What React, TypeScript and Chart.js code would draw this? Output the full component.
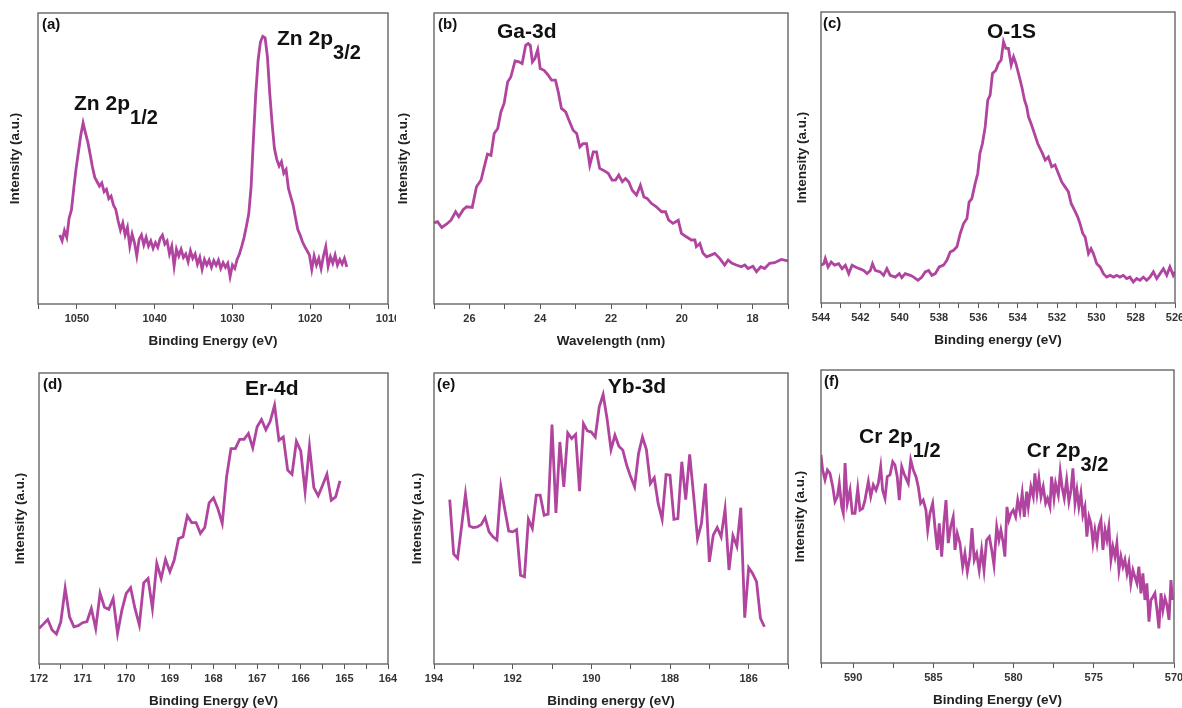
import React, { useEffect, useRef } from "react";
import { Chart, registerables } from "chart.js";

Chart.register(...registerables);

// ---------------- data ----------------
const A_EV = [1052.2,1051.9,1051.6,1051.3,1051.0,1050.7,1050.4,1050.1,1049.8,1049.5,1049.2,1048.9,1048.6,1048.3,1048.0,1047.7,1047.4,1047.1,1046.8,1046.5,1046.2,1045.9,1045.6,1045.3,1045.0,1044.7,1044.4,1044.1,1043.8,1043.5,1043.2,1042.9,1042.6,1042.3,1042.0,1041.7,1041.4,1041.1,1040.8,1040.5,1040.2,1039.9,1039.6,1039.3,1039.0,1038.7,1038.4,1038.1,1037.8,1037.5,1037.2,1036.9,1036.6,1036.3,1036.0,1035.7,1035.4,1035.1,1034.8,1034.5,1034.2,1033.9,1033.6,1033.3,1033.0,1032.7,1032.4,1032.1,1031.8,1031.5,1031.2,1030.9,1030.6,1030.3,1030.0,1029.7,1029.4,1029.1,1028.8,1028.5,1028.2,1027.9,1027.6,1027.3,1027.0,1026.7,1026.4,1026.1,1025.8,1025.5,1025.2,1024.9,1024.6,1024.3,1024.0,1023.7,1023.4,1023.1,1022.8,1022.5,1022.2,1021.9,1021.6,1021.3,1021.0,1020.7,1020.4,1020.1,1019.8,1019.5,1019.2,1018.9,1018.6,1018.3,1018.0,1017.7,1017.4,1017.1,1016.8,1016.5,1016.2,1015.9,1015.6,1015.3];
const A_VAL = [23.7,21.7,25.2,22.9,29.5,32.3,39.7,46.6,52.3,58.0,62.2,58.8,55.7,51.5,47.1,43.5,42.0,40.5,41.6,38.6,39.4,36.2,37.1,34.0,32.5,28.6,25.4,27.9,23.7,26.3,19.9,24.0,21.1,16.5,22.2,23.7,20.3,22.9,19.9,21.7,19.1,21.1,19.5,22.5,23.7,20.6,21.7,17.2,19.9,13.0,18.8,16.5,18.8,16.0,17.2,14.5,18.3,15.7,17.2,13.7,16.0,11.9,15.3,13.4,15.1,12.6,14.9,13.3,15.1,12.2,14.2,12.6,14.0,9.4,13.4,12.2,15.3,17.2,19.9,22.9,26.8,31.1,40.3,56.9,72.3,83.8,90.0,92.0,91.5,84.9,72.3,62.0,53.4,49.7,47.4,48.9,44.9,46.2,39.7,36.8,34.0,29.7,25.6,23.7,21.4,19.7,18.3,16.8,11.9,16.5,13.4,15.7,12.2,16.5,19.7,13.0,16.2,14.0,16.8,13.4,15.3,13.7,15.7,12.8];

const B_NM = [27.00,26.90,26.78,26.64,26.52,26.39,26.30,26.17,26.08,25.92,25.80,25.67,25.58,25.49,25.39,25.30,25.20,25.11,25.02,24.92,24.83,24.71,24.60,24.51,24.41,24.34,24.28,24.22,24.15,24.07,24.00,23.89,23.77,23.68,23.57,23.49,23.40,23.28,23.19,23.07,22.97,22.88,22.79,22.69,22.60,22.50,22.41,22.32,22.22,22.08,21.97,21.87,21.78,21.68,21.59,21.50,21.40,21.28,21.17,21.07,20.98,20.86,20.72,20.57,20.46,20.37,20.25,20.10,20.01,19.87,19.73,19.63,19.59,19.49,19.40,19.30,19.18,19.07,18.93,18.79,18.69,18.58,18.46,18.32,18.22,18.13,17.99,17.89,17.77,17.66,17.52,17.38,17.19,17.00];
const B_VAL = [27.9,28.3,26.3,27.5,28.8,31.7,30.0,32.5,33.4,33.2,40.3,42.6,47.1,51.5,51.1,58.6,60.3,66.0,68.9,76.3,78.0,83.5,83.2,82.6,88.9,89.5,88.9,83.2,84.3,87.4,80.9,80.3,78.6,76.9,76.9,72.9,67.2,66.0,63.2,59.7,58.6,54.0,55.1,55.1,47.7,52.3,52.3,46.6,46.0,44.9,42.6,42.6,44.3,42.0,43.1,42.0,39.1,37.4,40.8,36.8,36.3,34.6,33.4,31.7,31.7,28.8,27.7,28.8,24.3,23.1,22.0,22.0,19.7,20.8,17.4,16.2,16.8,17.4,15.7,13.4,15.1,14.0,13.4,12.8,13.4,12.2,13.0,11.1,12.8,12.2,14.0,14.2,15.3,14.8];

const C_EV = [544.00,543.86,543.78,543.64,543.48,543.31,543.10,542.93,542.76,542.59,542.42,542.25,542.05,541.83,541.66,541.49,541.38,541.24,540.99,540.82,540.65,540.48,540.22,540.02,539.89,539.72,539.46,539.29,539.07,538.87,538.70,538.53,538.36,538.19,537.99,537.77,537.60,537.43,537.26,537.09,536.92,536.75,536.58,536.47,536.33,536.16,536.03,535.92,535.79,535.65,535.52,535.40,535.28,535.11,534.98,534.84,534.72,534.60,534.47,534.33,534.21,534.09,533.96,533.79,533.65,533.54,533.45,533.32,533.15,532.98,532.86,532.74,532.60,532.44,532.27,532.10,531.93,531.76,531.59,531.42,531.28,531.11,530.95,530.83,530.69,530.57,530.40,530.27,530.15,529.98,529.81,529.64,529.47,529.30,529.13,528.96,528.80,528.63,528.46,528.29,528.12,527.95,527.78,527.61,527.44,527.27,527.10,526.93,526.76,526.59,526.42,526.26,526.09,526.00];
const C_VAL = [13.0,13.5,15.3,12.4,14.1,13.0,13.5,11.8,13.0,10.1,13.0,12.4,11.8,11.2,10.1,11.2,13.5,11.2,10.7,9.5,11.8,9.5,8.9,10.1,8.7,10.1,9.5,8.9,7.8,8.9,10.7,11.2,9.5,10.1,12.4,13.0,14.7,17.5,18.1,19.3,23.9,27.3,29.0,34.7,35.9,41.1,44.5,51.4,54.8,60.6,69.7,71.4,78.9,80.0,82.3,83.5,89.8,87.5,87.5,81.8,84.6,82.3,78.9,74.3,69.7,67.4,64.0,61.7,58.3,54.8,53.1,51.4,49.1,50.2,46.8,47.4,44.5,41.6,39.9,38.2,34.2,31.9,29.6,27.3,23.9,22.7,17.0,18.7,17.0,13.5,12.4,10.1,8.9,9.5,8.9,9.5,8.9,9.5,8.4,8.9,7.2,8.4,7.8,8.9,7.8,8.9,10.7,8.4,10.1,11.8,9.5,12.4,9.5,10.7];

const D_EV = [172.0,171.9,171.8,171.7,171.6,171.5,171.4,171.3,171.2,171.1,171.0,170.9,170.8,170.7,170.6,170.5,170.4,170.3,170.2,170.1,170.0,169.9,169.8,169.7,169.6,169.5,169.4,169.3,169.2,169.1,169.0,168.9,168.8,168.7,168.6,168.5,168.4,168.3,168.2,168.1,168.0,167.9,167.8,167.7,167.6,167.5,167.4,167.3,167.2,167.1,167.0,166.9,166.8,166.7,166.6,166.5,166.4,166.3,166.2,166.1,166.0,165.9,165.8,165.7,165.6,165.5,165.4,165.3,165.2,165.1];
const D_VAL = [12.2,13.7,15.3,11.7,10.3,14.5,26.0,16.2,12.8,13.2,14.2,14.6,19.1,12.2,24.3,19.5,18.8,22.5,10.5,18.5,24.3,26.2,19.1,13.4,27.9,29.4,19.1,34.6,29.4,35.9,31.7,35.7,43.1,43.7,50.9,48.6,48.6,44.9,46.9,55.4,57.1,53.4,48.3,64.3,74.0,74.0,77.2,77.2,79.2,74.3,81.5,84.0,80.5,83.4,88.9,76.9,78.0,66.6,65.2,76.5,73.2,59.2,74.8,60.6,57.8,61.4,65.2,56.3,57.4,62.9];

const E_EV = [193.6,193.5,193.4,193.3,193.2,193.1,193.0,192.9,192.8,192.7,192.6,192.5,192.4,192.3,192.2,192.1,192.0,191.9,191.8,191.7,191.6,191.5,191.4,191.3,191.2,191.1,191.0,190.9,190.8,190.7,190.6,190.5,190.4,190.3,190.2,190.1,190.0,189.9,189.8,189.7,189.6,189.5,189.4,189.3,189.2,189.1,189.0,188.9,188.8,188.7,188.6,188.5,188.4,188.3,188.2,188.1,188.0,187.9,187.8,187.7,187.6,187.5,187.4,187.3,187.2,187.1,187.0,186.9,186.8,186.7,186.6,186.5,186.4,186.3,186.2,186.1,186.0,185.9,185.8,185.7,185.6];
const E_VAL = [56.5,37.8,36.3,47.1,58.4,47.4,46.9,47.1,47.9,50.3,45.4,43.7,42.6,60.9,53.1,45.7,45.4,46.2,30.5,30.0,49.7,46.6,58.0,58.0,51.1,51.5,82.3,51.9,76.3,60.9,79.4,77.5,78.9,59.4,82.6,80.1,79.7,78.0,88.3,92.6,84.3,73.7,78.6,74.8,73.5,68.3,64.3,60.9,72.3,78.0,73.7,62.0,64.0,55.1,49.8,65.1,64.9,49.7,50.0,69.5,56.5,72.0,58.0,43.1,48.3,62.0,35.1,44.3,46.9,43.7,53.2,32.3,44.1,40.5,53.7,15.9,33.1,31.1,28.3,15.7,12.8];

const F_EV = [592.00,591.90,591.75,591.60,591.44,591.27,591.13,590.98,590.86,590.71,590.61,590.50,590.36,590.19,590.05,589.88,589.71,589.57,589.40,589.26,589.05,588.90,588.74,588.57,588.43,588.28,588.16,588.01,587.87,587.70,587.53,587.39,587.25,587.12,586.97,586.83,586.70,586.56,586.41,586.25,586.08,585.94,585.79,585.63,585.46,585.35,585.21,585.04,584.90,584.75,584.63,584.48,584.34,584.21,584.07,583.92,583.76,583.65,583.51,583.34,583.17,583.03,582.88,582.72,582.59,582.45,582.30,582.14,581.99,581.84,581.68,581.51,581.36,581.22,581.05,580.91,580.79,580.64,580.54,580.41,580.29,580.16,580.02,579.87,579.74,579.60,579.46,579.33,579.18,579.08,578.92,578.77,578.67,578.54,578.42,578.29,578.15,578.00,577.88,577.73,577.63,577.48,577.38,577.21,577.09,576.96,576.84,576.69,576.55,576.42,576.30,576.17,576.05,575.93,575.80,575.68,575.55,575.43,575.30,575.18,575.05,574.93,574.80,574.68,574.55,574.43,574.30,574.18,574.06,573.93,573.81,573.68,573.56,573.43,573.31,573.18,573.06,572.93,572.81,572.69,572.56,572.44,572.31,572.19,572.06,571.94,571.81,571.69,571.56,571.44,571.31,571.19,571.06,570.94,570.81,570.69,570.56,570.44,570.31,570.19,570.09];
const F_VAL = [71.0,65.9,62.5,65.9,64.7,60.2,55.1,56.8,61.3,53.3,51.1,68.2,54.5,59.0,51.1,51.1,59.6,52.2,52.8,55.6,61.9,56.8,60.8,59.0,61.3,67.0,59.0,56.2,63.6,64.2,68.7,67.6,63.6,55.6,67.0,64.7,63.0,61.3,69.3,65.9,63.6,60.2,54.5,55.6,52.2,45.4,51.1,54.5,46.5,38.6,47.7,36.3,47.7,55.6,40.9,46.5,49.9,38.6,44.3,40.9,32.9,37.4,31.2,36.3,46.0,35.2,37.4,31.7,38.6,31.7,42.0,43.1,38.6,33.4,46.5,42.0,45.4,40.9,36.3,53.3,48.8,51.1,52.2,49.9,55.6,51.7,57.9,49.9,58.5,53.3,60.2,56.8,64.7,57.9,63.0,56.8,60.2,54.5,56.2,53.3,63.6,56.2,61.3,57.3,65.3,59.6,56.2,62.5,55.1,59.0,66.4,54.5,59.0,53.3,57.9,50.5,53.3,43.1,49.9,47.7,40.9,45.4,40.9,46.5,48.8,38.6,45.4,42.0,46.5,35.2,39.7,36.3,40.9,31.7,36.3,32.9,35.2,30.6,34.0,27.2,31.7,29.5,27.2,32.9,23.8,30.6,21.5,27.2,14.1,21.5,22.6,23.8,18.1,11.8,23.8,18.1,22.1,19.8,14.7,28.3,21.5];

const PANEL_LABELS = ["(a)", "(b)", "(c)", "(d)", "(e)", "(f)"];
const X_TITLES = [
  "Binding Energy (eV)",
  "Wavelength (nm)",
  "Binding energy (eV)",
  "Binding Energy (eV)",
  "Binding energy (eV)",
  "Binding Energy (eV)",
];
const Y_TITLE = "Intensity (a.u.)";

// ---------------- styling / layout ----------------
const LINE = "#b0449f";
const FRAME = "#666666";
const TICK_COLOR = "#333333";
const TEXT = "#111111";
const ARIAL = "'Liberation Sans', Arial, Helvetica, sans-serif";
const TITLE_SIZE = 13.5;

type Note = { text: string; sub?: string; x: number; y: number };
type PanelCfg = {
  label: string;
  xTitle: string;
  xs: number[];
  ys: number[];
  xmin: number;
  xmax: number;
  step: number;
  every: number;
  notes: Note[];
  box: { l: number; t: number; r: number; b: number };
  yTitleX: number;
  canvasTop: number;
  canvasRight: number;
  labelDx: number;
};

const PANELS: PanelCfg[] = [
  {
    label: PANEL_LABELS[0], xTitle: X_TITLES[0], xs: A_EV, ys: A_VAL,
    xmin: 1010, xmax: 1055, step: 5, every: 10,
    notes: [
      { text: "Zn 2p", sub: "3/2", x: 1024.27, y: 89.0 },
      { text: "Zn 2p", sub: "1/2", x: 1050.37, y: 66.7 },
    ],
    box: { l: 38, t: 13, r: 388, b: 304 }, yTitleX: 15, canvasTop: 0, canvasRight: 396, labelDx: 4,
  },
  {
    label: PANEL_LABELS[1], xTitle: X_TITLES[1], xs: B_NM, ys: B_VAL,
    xmin: 17, xmax: 27, step: 1, every: 2,
    notes: [{ text: "Ga-3d", x: 25.22, y: 91.4 }],
    box: { l: 434, t: 13, r: 788, b: 304 }, yTitleX: 403, canvasTop: 0, canvasRight: 800, labelDx: 4,
  },
  {
    label: PANEL_LABELS[2], xTitle: X_TITLES[2], xs: C_EV, ys: C_VAL,
    xmin: 526, xmax: 544, step: 1, every: 2,
    notes: [{ text: "O-1S", x: 535.56, y: 91.1 }],
    box: { l: 821, t: 12, r: 1175, b: 303 }, yTitleX: 802, canvasTop: 0, canvasRight: 1182, labelDx: 2,
  },
  {
    label: PANEL_LABELS[3], xTitle: X_TITLES[3], xs: D_EV, ys: D_VAL,
    xmin: 164, xmax: 172, step: 0.5, every: 1,
    notes: [{ text: "Er-4d", x: 167.28, y: 92.4 }],
    box: { l: 39, t: 373, r: 388, b: 664 }, yTitleX: 20, canvasTop: 360, canvasRight: 410, labelDx: 4,
  },
  {
    label: PANEL_LABELS[4], xTitle: X_TITLES[4], xs: E_EV, ys: E_VAL,
    xmin: 185, xmax: 194, step: 1, every: 2,
    notes: [{ text: "Yb-3d", x: 189.58, y: 93.1 }],
    box: { l: 434, t: 373, r: 788, b: 664 }, yTitleX: 417, canvasTop: 360, canvasRight: 800, labelDx: 3,
  },
  {
    label: PANEL_LABELS[5], xTitle: X_TITLES[5], xs: F_EV, ys: F_VAL,
    xmin: 570, xmax: 592, step: 2.5, every: 5,
    notes: [
      { text: "Cr 2p", sub: "1/2", x: 589.63, y: 75.1 },
      { text: "Cr 2p", sub: "3/2", x: 579.17, y: 70.3 },
    ],
    box: { l: 821, t: 370, r: 1174, b: 663 }, yTitleX: 800, canvasTop: 360, canvasRight: 1182, labelDx: 3,
  },
];

function Panel({ cfg }: { cfg: PanelCfg }) {
  const ref = useRef<HTMLCanvasElement | null>(null);
  const lh = TITLE_SIZE * 1.2;
  const canvasLeft = Math.round(cfg.yTitleX - lh / 2 - 2);
  const yW = cfg.box.l - canvasLeft;
  const xH = 47;
  const padTop = cfg.box.t - cfg.canvasTop;
  const padR = cfg.canvasRight - cfg.box.r;
  const W = cfg.canvasRight - canvasLeft;
  const H = cfg.box.b + xH - cfg.canvasTop;

  useEffect(() => {
    const canvas = ref.current;
    if (!canvas) return;
    const points = cfg.xs.map((x, i) => ({ x, y: cfg.ys[i] }));

    const decor = {
      id: "decor",
      afterDatasetsDraw(chart: any) {
        const { ctx, chartArea: ca, scales } = chart;
        ctx.save();
        ctx.strokeStyle = FRAME;
        ctx.lineWidth = 1.4;
        ctx.strokeRect(ca.left, ca.top, ca.right - ca.left, ca.bottom - ca.top);
        ctx.fillStyle = TEXT;
        ctx.textAlign = "left";
        ctx.textBaseline = "alphabetic";
        ctx.font = `bold 15px ${ARIAL}`;
        ctx.fillText(cfg.label, ca.left + cfg.labelDx, ca.top + 16);
        for (const n of cfg.notes) {
          const px = scales.x.getPixelForValue(n.x);
          const py = scales.y.getPixelForValue(n.y);
          ctx.font = `bold 21px ${ARIAL}`;
          ctx.fillText(n.text, px, py);
          if (n.sub) {
            const w = ctx.measureText(n.text).width;
            ctx.font = `bold 20px ${ARIAL}`;
            ctx.fillText(n.sub, px + w, py + 14);
          }
        }
        ctx.restore();
      },
    };

    const chart = new Chart(canvas, {
      type: "line",
      data: {
        datasets: [
          {
            data: points,
            borderColor: LINE,
            backgroundColor: LINE,
            borderWidth: 2.8,
            pointRadius: 0,
            tension: 0,
            fill: false,
          },
        ],
      },
      options: {
        animation: false,
        responsive: false,
        devicePixelRatio: 1,
        layout: { padding: { top: padTop, right: padR, left: 0, bottom: 0 } },
        plugins: { legend: { display: false }, tooltip: { enabled: false } },
        scales: {
          x: {
            type: "linear",
            min: cfg.xmin,
            max: cfg.xmax,
            reverse: true,
            afterFit: (s: any) => {
              s.height = xH;
              s.paddingLeft = 0;
              s.paddingRight = 0;
            },
            ticks: {
              stepSize: cfg.step,
              autoSkip: false,
              maxRotation: 0,
              minRotation: 0,
              padding: 3,
              color: TICK_COLOR,
              font: { family: ARIAL, size: 11, weight: "bold" },
              callback: (v: any) => {
                const n = Number(v);
                const r = n / cfg.every;
                return Math.abs(r - Math.round(r)) < 1e-6 ? String(Math.round(n * 10) / 10) : "";
              },
            },
            grid: {
              display: true,
              drawOnChartArea: false,
              drawTicks: true,
              tickLength: 5,
              color: "#555555",
              lineWidth: 1,
            },
            border: { display: false },
            title: {
              display: true,
              text: cfg.xTitle,
              color: "#222222",
              font: { family: ARIAL, size: TITLE_SIZE, weight: "bold" },
              padding: { top: 0, bottom: 2 },
            },
          },
          y: {
            type: "linear",
            min: 0,
            max: 100,
            afterFit: (s: any) => {
              s.width = yW;
              s.paddingTop = 0;
              s.paddingBottom = 0;
            },
            ticks: { display: false },
            grid: { display: false },
            border: { display: false },
            title: {
              display: true,
              text: Y_TITLE,
              color: "#222222",
              font: { family: ARIAL, size: TITLE_SIZE, weight: "bold" },
              padding: { top: 2, bottom: 0 },
            },
          },
        },
      },
      plugins: [decor],
    } as any);
    return () => chart.destroy();
  }, []);

  return (
    <canvas
      ref={ref}
      width={W}
      height={H}
      style={{ position: "absolute", left: canvasLeft, top: cfg.canvasTop, width: W, height: H }}
    />
  );
}

export default function App() {
  return (
    <div
      style={{
        position: "fixed",
        left: 0,
        top: 0,
        width: 1182,
        height: 708,
        background: "#ffffff",
        overflow: "hidden",
      }}
    >
      {PANELS.map((p, i) => (
        <Panel key={i} cfg={p} />
      ))}
    </div>
  );
}
